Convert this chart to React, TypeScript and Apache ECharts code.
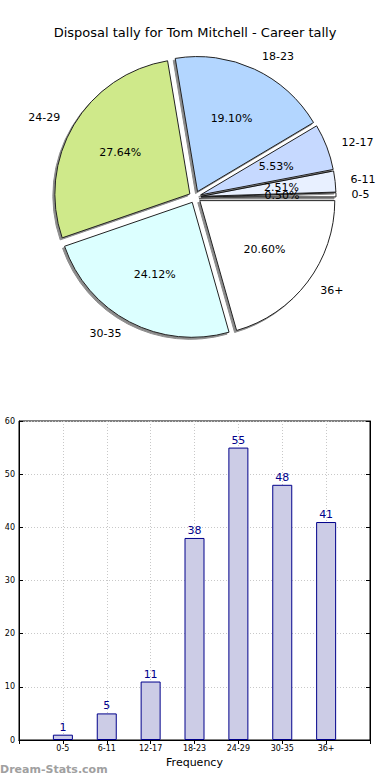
import React, { useEffect, useRef } from "react";
import * as echarts from "echarts";

const categories: string[] = ["0-5", "6-11", "12-17", "18-23", "24-29", "30-35", "36+"];
const values: number[] = [1, 5, 11, 38, 55, 48, 41];
const sliceColors: string[] = ["#ffffff", "#e8f0ff", "#c6d9ff", "#b3d6ff", "#cfe98a", "#dcffff", "#ffffff"];
const yTicks: number[] = [0, 10, 20, 30, 40, 50, 60];

const FONT = "DejaVu Sans";

export default function App() {
  const ref = useRef<HTMLDivElement>(null);
  useEffect(() => {
    if (!ref.current) return;
    const chart = echarts.init(ref.current, null, { renderer: "svg" });
    const total = values.reduce((a, b) => a + b, 0);
    const R = 135;
    const OFF = 6;
    const CENTER = [195, 197];
    const pieData = categories.map((c, i) => ({
      name: c,
      value: values[i],
      selected: true,
      itemStyle: { color: sliceColors[i] },
    }));
    const padded = ["", ...categories, ""];
    const barData: (number | string)[] = ["-", ...values, "-"];
    chart.setOption({
      animation: false,
      textStyle: { fontFamily: FONT },
      title: {
        text: "Disposal tally for Tom Mitchell - Career tally",
        left: "center",
        top: 21,
        textStyle: { fontFamily: FONT, fontSize: 13, fontWeight: "normal", color: "#000" },
      },
      graphic: [
        {
          type: "text",
          left: 0,
          top: 764,
          style: {
            text: "Dream-Stats.com",
            fill: "#a0a0a0",
            font: `bold 11px ${FONT}`,
          },
        },
      ],
      grid: {
        left: 19,
        right: 20,
        top: 421,
        bottom: 40,
        show: true,
        borderColor: "#000",
        borderWidth: 1,
        containLabel: false,
      },
      xAxis: [
        {
          type: "category",
          data: padded,
          boundaryGap: false,
          name: "Frequency",
          nameLocation: "middle",
          nameGap: 17,
          nameTextStyle: { fontFamily: FONT, fontSize: 11, color: "#000" },
          axisLine: { lineStyle: { color: "#000", width: 1 } },
          axisTick: { inside: true, length: 4, lineStyle: { color: "#000" }, interval: 0 },
          axisLabel: { fontFamily: FONT, fontSize: 8, color: "#000", interval: 0, margin: 4 },
          splitLine: { show: true, interval: 0, lineStyle: { color: "#c8c8c8", type: [1, 2] } },
        },
        {
          type: "category",
          data: padded,
          boundaryGap: false,
          position: "top",
          axisLine: { lineStyle: { color: "#000", width: 1 } },
          axisTick: { inside: true, length: 4, lineStyle: { color: "#000" }, interval: 0 },
          axisLabel: { show: false },
          splitLine: { show: false },
        },
      ],
      yAxis: [
        {
          type: "value",
          min: yTicks[0],
          max: yTicks[yTicks.length - 1],
          interval: 10,
          axisLine: { show: true, lineStyle: { color: "#000" } },
          axisTick: { show: true, inside: true, length: 4, lineStyle: { color: "#000" } },
          axisLabel: { fontFamily: FONT, fontSize: 8, color: "#000", margin: 4 },
          splitLine: { show: true, lineStyle: { color: "#c8c8c8", type: [1, 2] } },
        },
        {
          type: "value",
          min: yTicks[0],
          max: yTicks[yTicks.length - 1],
          interval: 10,
          position: "right",
          axisLine: { show: true, lineStyle: { color: "#000" } },
          axisTick: { show: true, inside: true, length: 4, lineStyle: { color: "#000" } },
          axisLabel: { show: false },
          splitLine: { show: false },
        },
      ],
      series: [
        {
          type: "pie",
          center: CENTER,
          radius: [0, R],
          startAngle: 0,
          clockwise: false,
          selectedMode: "multiple",
          selectedOffset: OFF,
          avoidLabelOverlap: false,
          data: pieData,
          itemStyle: {
            borderColor: "#222",
            borderWidth: 1,
            shadowColor: "rgba(0,0,0,0.45)",
            shadowBlur: 1,
            shadowOffsetX: -2,
            shadowOffsetY: 2,
          },
          label: {
            show: true,
            position: "outside",
            formatter: "{b}",
            fontFamily: FONT,
            fontSize: 11,
            color: "#000",
            distanceToLabelLine: 2,
          },
          labelLine: { show: false, length: 0.1 * R, length2: 0 },
          emphasis: { disabled: true },
          silent: true,
        },
        {
          type: "pie",
          center: CENTER,
          radius: [0, 0.6 * R],
          startAngle: 0,
          clockwise: false,
          selectedMode: "multiple",
          selectedOffset: OFF,
          avoidLabelOverlap: false,
          data: pieData.map((d) => ({ ...d, itemStyle: { color: "transparent", borderWidth: 0 } })),
          itemStyle: { color: "transparent", borderWidth: 0 },
          label: {
            show: true,
            position: "outside",
            formatter: (p: any) => ((p.value / total) * 100).toFixed(2) + "%",
            fontFamily: FONT,
            fontSize: 11,
            color: "#000",
            distanceToLabelLine: 0,
          },
          labelLine: { show: false, length: 0, length2: 0 },
          labelLayout: () => ({ align: "center" }),
          emphasis: { disabled: true },
          silent: true,
        },
        {
          type: "bar",
          xAxisIndex: 0,
          yAxisIndex: 0,
          data: barData,
          barWidth: 20,
          itemStyle: { color: "#ccccE6", borderColor: "#00008b", borderWidth: 1 },
          label: {
            show: true,
            position: "top",
            distance: 2,
            fontFamily: FONT,
            fontSize: 11,
            color: "#00008b",
          },
          emphasis: { disabled: true },
          silent: true,
        },
      ],
    });
    return () => chart.dispose();
  }, []);
  return (
    <div
      ref={ref}
      style={{ position: "absolute", left: 0, top: 0, width: 390, height: 780 }}
    />
  );
}
